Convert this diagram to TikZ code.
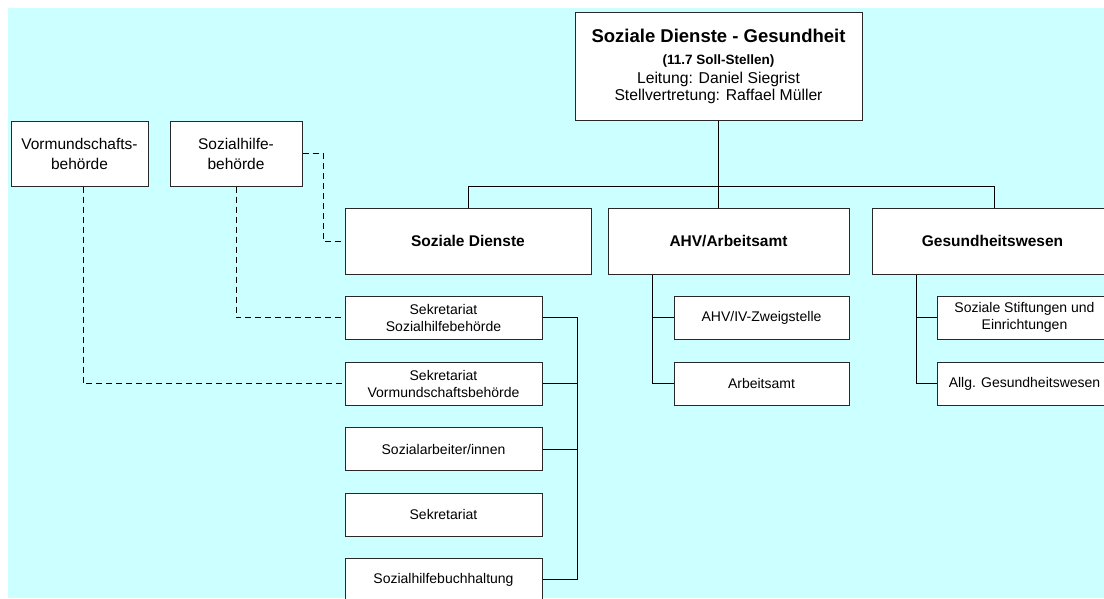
\documentclass[tikz,border=0pt]{standalone}
\usepackage{fontspec}
\setmainfont{Liberation Sans}
\definecolor{bgcyan}{RGB}{204,255,255}
\definecolor{boxline}{RGB}{40,40,40}
\begin{document}
\begin{tikzpicture}[x=1pt,y=-1pt,
  box/.style={draw=boxline,line width=1pt,fill=white,inner sep=0pt,align=center,anchor=center},
  mainbox/.style={box,minimum height=66pt,font=\fontsize{15.5}{19}\selectfont\bfseries},
  leftbox/.style={box,minimum height=65pt,font=\fontsize{15.5}{20}\selectfont},
  sdbox/.style={box,minimum width=197pt,minimum height=43pt,font=\fontsize{14}{17}\selectfont},
  subbox/.style={box,minimum width=175pt,minimum height=43pt,font=\fontsize{14}{17}\selectfont},
  conn/.style={draw=black,line width=0.9pt},
  dconn/.style={draw=black,line width=0.9pt,dash pattern=on 6pt off 4pt},
  txt/.style={inner sep=0pt,anchor=base}]
\clip (0,0) rectangle (1104,598);
\fill[bgcyan] (8,8) rectangle (1104,598);

% top box
\node[box,minimum width=287pt,minimum height=108pt] (top) at (718.5,66) {};
\node[txt,font=\fontsize{18.5}{22}\selectfont\bfseries] (t1) at (718.5,42.7) {Soziale Dienste - Gesundheit};
\node[txt,font=\fontsize{13.5}{16}\selectfont\bfseries] (t2) at (718.5,64) {(11.7 Soll-Stellen)};
\node[txt,font=\fontsize{15.7}{19}\selectfont] (t3) at (718.5,83.3) {Leitung: Daniel Siegrist};
\node[txt,font=\fontsize{15.7}{19}\selectfont] (t4) at (718.5,100) {Stellvertretung: Raffael Müller};

% left boxes
\node[leftbox,minimum width=137pt] (vorm) at (79.5,153.5) {Vormundschafts-\\behörde};
\node[leftbox,minimum width=132pt] (sozb) at (236,153.5) {Sozialhilfe-\\behörde};

% main level
\node[mainbox,minimum width=246pt] (sd) at (468,241) {Soziale Dienste};
\node[mainbox,minimum width=241pt] (ahv) at (728.5,241) {AHV/Arbeitsamt};
\node[mainbox,minimum width=241pt] (ges) at (992.5,241) {Gesundheitswesen};

% Soziale Dienste children
\node[sdbox] (sd1) at (443.5,317.5) {Sekretariat\\Sozialhilfebehörde};
\node[sdbox] (sd2) at (443.5,383.5) {Sekretariat\\Vormundschaftsbehörde};
\node[sdbox] (sd3) at (443.5,449) {Sozialarbeiter/innen};
\node[sdbox] (sd4) at (443.5,514.5) {Sekretariat};
\node[sdbox] (sd5) at (443.5,579.5) {Sozialhilfebuchhaltung};

% AHV children
\node[subbox] (ahv1) at (761.5,317.5) {AHV/IV-Zweigstelle};
\node[subbox] (ahv2) at (761.5,383.5) {Arbeitsamt};

% Gesundheitswesen children
\node[subbox] (ges1) at (1024.5,317.5) {Soziale Stiftungen und\\Einrichtungen};
\node[subbox] (ges2) at (1024.5,383.5) {Allg. Gesundheitswesen};

% coordinates for bars
\coordinate (bus) at (718,186);
\coordinate (gesx) at (994,186);
\coordinate (ahvbar) at (652,0);
\coordinate (gesbar) at (916,0);
\coordinate (sdbar) at (577,0);
\coordinate (dx) at (323,0);
\coordinate (vx) at (83,0);

% top connectors
\draw[conn] (top.south) -- (top.south |- ahv.north);
\draw[conn] (sd.north |- bus) -- (gesx);
\draw[conn] (sd.north) -- (sd.north |- bus);
\draw[conn] (gesx) -- (gesx |- ges.north);

% AHV children connectors
\draw[conn] (ahv.south -| ahvbar) |- (ahv2.west);
\draw[conn] (ahv1.west) -- (ahv1.west -| ahvbar);

% Gesundheitswesen children connectors
\draw[conn] (ges.south -| gesbar) |- (ges2.west);
\draw[conn] (ges1.west) -- (ges1.west -| gesbar);

% Soziale Dienste children connectors (right bar)
\draw[conn] (sd1.east) -- (sd1.east -| sdbar) -- (sd5.east -| sdbar) -- (sd5.east);
\draw[conn] (sd2.east) -- (sd2.east -| sdbar);
\draw[conn] (sd3.east) -- (sd3.east -| sdbar);

% dashed connectors
\draw[dconn] (sozb.east) -- (sozb.east -| dx) |- (sd.west);
\draw[dconn] (sozb.south) |- (sd1.west);
\draw[dconn] (vorm.south -| vx) |- (sd2.west);
\end{tikzpicture}
\end{document}
